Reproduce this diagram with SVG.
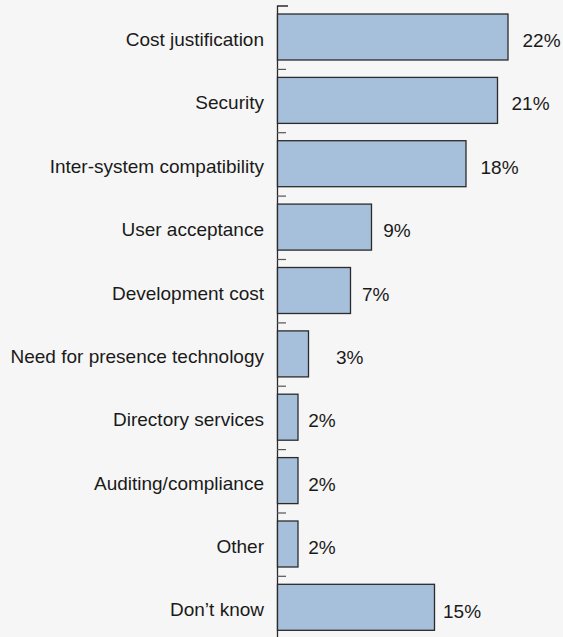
<svg xmlns="http://www.w3.org/2000/svg" width="563" height="637" viewBox="0 0 563 637">
<style>
.bar{fill:#a6bfdb;stroke:#2b2b2b;stroke-width:1.3}
.cat{font-family:"Liberation Sans",Arial,sans-serif;font-size:19px;fill:#1a1a1a;text-anchor:end}
.val{font-family:"Liberation Sans",Arial,sans-serif;font-size:19px;fill:#1a1a1a}
.tick{stroke:#555;stroke-width:1.2}
.axis{stroke:#2b2b2b;stroke-width:1.3;fill:none}
</style>
<rect width="563" height="637" fill="#f6f6f6"/>
<g id="connectors">
<path class="axis" d="M288,6 H277.5 V637"/>
<line class="tick" x1="277" y1="69.4" x2="286" y2="69.4"/>
<line class="tick" x1="277" y1="132.7" x2="286" y2="132.7"/>
<line class="tick" x1="277" y1="196.1" x2="286" y2="196.1"/>
<line class="tick" x1="277" y1="259.5" x2="286" y2="259.5"/>
<line class="tick" x1="277" y1="322.9" x2="286" y2="322.9"/>
<line class="tick" x1="277" y1="386.2" x2="286" y2="386.2"/>
<line class="tick" x1="277" y1="449.6" x2="286" y2="449.6"/>
<line class="tick" x1="277" y1="513" x2="286" y2="513"/>
<line class="tick" x1="277" y1="576.3" x2="286" y2="576.3"/>
</g>
<g id="bar-cost-justification">
<rect class="bar" x="277.5" y="14" width="230.5" height="46"/>
<text class="cat" x="264" y="46">Cost justification</text>
<text class="val" x="522.5" y="47">22%</text>
</g>
<g id="bar-security">
<rect class="bar" x="277.5" y="77.4" width="220" height="46"/>
<text class="cat" x="264" y="109.4">Security</text>
<text class="val" x="511.5" y="110.4">21%</text>
</g>
<g id="bar-inter-system">
<rect class="bar" x="277.5" y="140.7" width="188.5" height="46"/>
<text class="cat" x="264" y="172.7">Inter-system compatibility</text>
<text class="val" x="480.5" y="173.7">18%</text>
</g>
<g id="bar-user-acceptance">
<rect class="bar" x="277.5" y="204.1" width="94" height="46"/>
<text class="cat" x="264" y="236.1">User acceptance</text>
<text class="val" x="383.3" y="237.1">9%</text>
</g>
<g id="bar-development-cost">
<rect class="bar" x="277.5" y="267.5" width="73" height="46"/>
<text class="cat" x="264" y="299.5">Development cost</text>
<text class="val" x="362" y="300.5">7%</text>
</g>
<g id="bar-presence">
<rect class="bar" x="277.5" y="330.9" width="31" height="46"/>
<text class="cat" x="264" y="362.9">Need for presence technology</text>
<text class="val" x="336" y="363.9">3%</text>
</g>
<g id="bar-directory">
<rect class="bar" x="277.5" y="394.2" width="20.5" height="46"/>
<text class="cat" x="264" y="426.2">Directory services</text>
<text class="val" x="308.3" y="427.4">2%</text>
</g>
<g id="bar-auditing">
<rect class="bar" x="277.5" y="457.6" width="20.5" height="46"/>
<text class="cat" x="264" y="489.6">Auditing/compliance</text>
<text class="val" x="308.3" y="490.8">2%</text>
</g>
<g id="bar-other">
<rect class="bar" x="277.5" y="521" width="20.5" height="46"/>
<text class="cat" x="264" y="553">Other</text>
<text class="val" x="308.3" y="554.2">2%</text>
</g>
<g id="bar-dont-know">
<rect class="bar" x="277.5" y="584.3" width="157" height="46"/>
<text class="cat" x="264" y="616.3">Don’t know</text>
<text class="val" x="443" y="617.5">15%</text>
</g>
</svg>
